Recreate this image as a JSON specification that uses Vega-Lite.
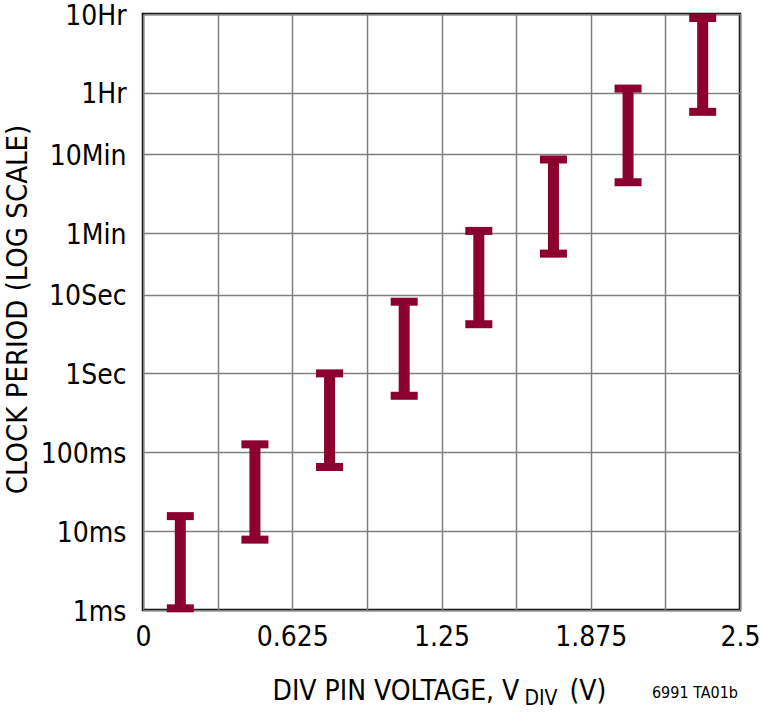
{
  "$schema": "https://vega.github.io/schema/vega-lite/v6.json",
  "autosize": {"type": "none"},
  "width": 597,
  "height": 596,
  "padding": {"left": 143, "top": 14, "right": 20, "bottom": 109},
  "background": "white",
  "config": {
    "font": "DejaVu Sans Condensed",
    "view": {"stroke": "black", "strokeWidth": 2.5},
    "axis": {"labelFont": "DejaVu Sans Condensed", "titleFont": "DejaVu Sans Condensed", "labelColor": "black", "titleColor": "black", "titleFontWeight": "normal"}
  },
  "title": {"text": "6991 TA01b", "orient": "bottom", "anchor": "end", "fontSize": 16, "fontWeight": "normal", "font": "DejaVu Sans Condensed", "color": "black", "frame": "group", "offset": 0, "dy": -23, "dx": -2},
  "data": {"values": [
    {"v": 0.15625, "lo": 0.00105, "hi": 0.0155},
    {"v": 0.46875, "lo": 0.0078, "hi": 0.126},
    {"v": 0.78125, "lo": 0.065, "hi": 1.0},
    {"v": 1.09375, "lo": 0.52, "hi": 8.1},
    {"v": 1.40625, "lo": 4.2, "hi": 64},
    {"v": 1.71875, "lo": 33, "hi": 515},
    {"v": 2.03125, "lo": 265, "hi": 4080},
    {"v": 2.34375, "lo": 2070, "hi": 32000}
  ]},
  "resolve": {"axis": {"x": "independent"}},
  "layer": [
    {
      "mark": {"type": "rule", "color": "#8C0030", "strokeWidth": 11, "strokeCap": "butt"},
      "encoding": {
        "x": {"field": "v", "type": "quantitative",
          "scale": {"domain": [0, 2.5], "nice": false, "zero": false},
          "axis": {"orient": "bottom", "values": [0, 0.3125, 0.625, 0.9375, 1.25, 1.5625, 1.875, 2.1875, 2.5],
            "labelExpr": "datum.value == 0 ? '0' : datum.value == 0.625 ? '0.625' : datum.value == 1.25 ? '1.25' : datum.value == 1.875 ? '1.875' : datum.value == 2.5 ? '2.5' : ''",
            "grid": true, "gridColor": "#7f7f7f", "gridWidth": 1.5, "gridOpacity": 1,
            "ticks": false, "domain": false, "labelFontSize": 28, "labelPadding": 13, "labelFlush": false,
            "title": "DIV PIN VOLTAGE, V", "titleFontSize": 28, "titleAnchor": "start", "titleAlign": "left", "titleBaseline": "alphabetic", "titleX": 129, "titleY": 89}},
        "y": {"field": "lo", "type": "quantitative",
          "scale": {"type": "log", "domain": [0.001, 36000], "nice": false},
          "axis": {"values": [0.001, 0.01, 0.1, 1, 10, 60, 600, 3600, 36000],
            "labelExpr": "datum.value < 0.005 ? '1ms' : datum.value < 0.05 ? '10ms' : datum.value < 0.5 ? '100ms' : datum.value < 5 ? '1Sec' : datum.value < 30 ? '10Sec' : datum.value < 300 ? '1Min' : datum.value < 2000 ? '10Min' : datum.value < 20000 ? '1Hr' : '10Hr'",
            "grid": true, "gridColor": "#7f7f7f", "gridWidth": 1.5, "gridOpacity": 1,
            "ticks": false, "domain": false, "labelFontSize": 28, "labelPadding": 17, "labelOffset": 2, "labelFlush": false,
            "title": "CLOCK PERIOD (LOG SCALE)", "titleFontSize": 29, "titleX": -126, "titleY": 295, "titleAngle": 270, "titleAlign": "center", "titleBaseline": "middle"}},
        "y2": {"field": "hi"}
      }
    },
    {
      "mark": {"type": "tick", "orient": "horizontal", "color": "#8C0030", "size": 27, "thickness": 8, "opacity": 1},
      "encoding": {
        "x": {"field": "v", "type": "quantitative",
          "axis": {"orient": "bottom", "labels": false, "ticks": false, "domain": false, "grid": false,
            "title": "DIV", "titleFontSize": 21, "titleAnchor": "start", "titleAlign": "left", "titleBaseline": "alphabetic", "titleX": 381, "titleY": 94}},
        "y": {"field": "lo", "type": "quantitative"}
      }
    },
    {
      "mark": {"type": "tick", "orient": "horizontal", "color": "#8C0030", "size": 27, "thickness": 8, "opacity": 1},
      "encoding": {
        "x": {"field": "v", "type": "quantitative",
          "axis": {"orient": "bottom", "labels": false, "ticks": false, "domain": false, "grid": false,
            "title": "(V)", "titleFontSize": 28, "titleAnchor": "start", "titleAlign": "left", "titleBaseline": "alphabetic", "titleX": 426, "titleY": 89}},
        "y": {"field": "hi", "type": "quantitative"}
      }
    }
  ]
}
